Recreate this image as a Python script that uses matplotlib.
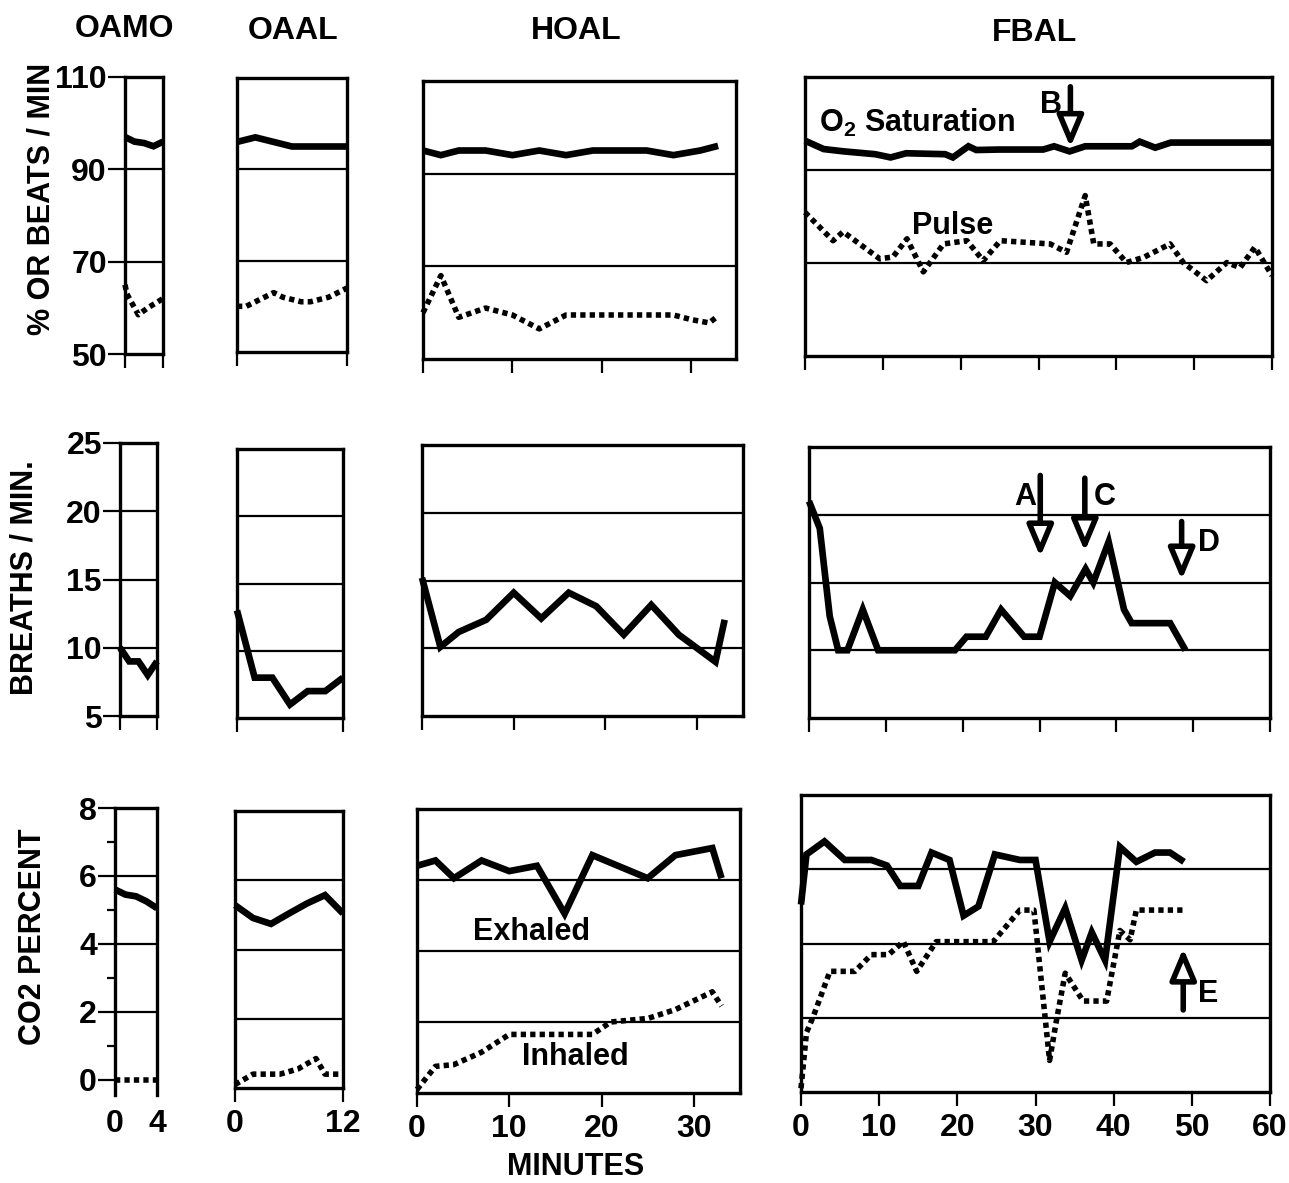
import matplotlib
matplotlib.use('Agg')
import matplotlib.pyplot as plt

plt.rcParams['font.family'] = ['Liberation Sans', 'DejaVu Sans']
plt.rcParams['font.weight'] = 'bold'
plt.rcParams['mathtext.fontset'] = 'custom'
plt.rcParams['mathtext.rm'] = 'Liberation Sans:bold'
plt.rcParams['mathtext.it'] = 'Liberation Sans:bold'
plt.rcParams['mathtext.bf'] = 'Liberation Sans:bold'

# ---------------- data ----------------
groups = ['OAMO', 'OAAL', 'HOAL', 'FBAL']
x_limits = [(0, 4), (0, 12), (0, 35), (0, 60)]
x_ticks = [[0, 4], [0, 12], [0, 10, 20, 30], [0, 10, 20, 30, 40, 50, 60]]

row_ylims = [(50, 110), (5, 25), (0, 8)]
row_yticks = [[50, 70, 90, 110], [5, 10, 15, 20, 25], [0, 2, 4, 6, 8]]
row_grid = [[70, 90], [10, 15, 20], [2, 4, 6]]
row_ylabels = ['% OR BEATS / MIN', 'BREATHS / MIN.', 'CO2 PERCENT']

# Row 1: O2 saturation (%) and pulse (beats/min)
oamo_o2_t = [0, 1, 2, 3, 4]
oamo_o2 = [97, 96, 95.7, 95, 96]
oamo_pulse_t = [0, 0.2, 1, 1.4, 2.4, 4]
oamo_pulse = [65, 63, 60, 58.5, 60, 62]

oaal_o2_t = [0, 2, 4, 6, 8, 10, 12]
oaal_o2 = [96, 97, 96, 95, 95, 95, 95]
oaal_pulse_t = [0, 1, 2, 4, 5, 7, 8, 10, 12]
oaal_pulse = [60, 60, 61, 63, 62, 61, 61, 62, 64]

hoal_o2_t = [0, 2, 4, 7, 10, 13, 16, 19, 22, 25, 28, 31, 33]
hoal_o2 = [95, 94, 95, 95, 94, 95, 94, 95, 95, 95, 94, 95, 96]
hoal_pulse_t = [0, 2, 4, 7, 10, 13, 16, 20, 24, 28, 30, 32, 33]
hoal_pulse = [60, 68, 59, 61, 59.5, 56.5, 59.5, 59.5, 59.5, 59.5, 58.5, 57.8, 59.3]

fbal_o2_t = [0, 2.4, 5, 9, 11, 13, 18, 19, 21, 22, 25, 28, 30.6, 32, 34, 36,
             42, 43, 45, 47, 50, 55, 60]
fbal_o2 = [96.3, 94.5, 94.0, 93.4, 92.7, 93.6, 93.4, 92.7, 95.1, 94.3, 94.4, 94.4,
           94.4, 95.1, 94.0, 95.1, 95.1, 96.1, 94.8, 95.9, 95.9, 95.9, 95.9]
fbal_pulse_t = [0, 3.6, 4.9, 9.6, 11.3, 13.1, 15.2, 17.8, 20.8, 22.9, 25.1, 31.5,
                33.6, 36, 37.1, 39.2, 41.3, 43.5, 46.9, 48.6, 51.6, 54.2, 55.9,
                57.8, 60]
fbal_pulse = [80.9, 74.8, 76.7, 70.9, 71.3, 75.2, 68.1, 74.1, 74.8, 70.5, 74.8,
              74.1, 72.3, 84.5, 74.1, 74.1, 70.1, 71.2, 74.1, 70.1, 66.2, 70.1,
              69, 73.4, 67.3]

# Row 2: breaths / min
oamo_br_t = [0, 1, 2, 3, 4]
oamo_br = [10, 9, 9, 8, 9]
oaal_br_t = [0, 2, 4, 6, 8, 10, 12]
oaal_br = [13, 8, 8, 6, 7, 7, 8]
hoal_br_t = [0, 2, 4, 7, 10, 13, 16, 19, 22, 25, 28, 32, 33]
hoal_br = [15.2, 10.1, 11.2, 12.1, 14.1, 12.2, 14.1, 13.1, 11, 13.2, 11, 9, 12.1]
fbal_br_t = [0, 1.4, 2.7, 3.8, 5, 7, 9, 19, 20.5, 23, 25, 28, 30, 32, 34, 36, 37,
             39, 41, 42, 47, 49]
fbal_br = [21, 19, 12.5, 10, 10, 13, 10, 10, 11, 11, 13, 11, 11, 15, 14, 16, 15,
           18, 13, 12, 12, 10]

# Row 3: CO2 percent (exhaled solid, inhaled dotted)
oamo_ex_t = [0, 1, 2, 3, 4]
oamo_ex = [5.6, 5.45, 5.4, 5.25, 5.05]
oamo_in_t = [0, 1, 2, 3, 4]
oamo_in = [0, 0, 0, 0, 0]
oaal_ex_t = [0, 2, 4, 6, 8, 10, 12]
oaal_ex = [5.28, 4.91, 4.74, 5.04, 5.33, 5.57, 5.04]
oaal_in_t = [0, 1, 2, 5, 7, 9, 10, 12]
oaal_in = [0.1, 0.25, 0.4, 0.4, 0.55, 0.85, 0.4, 0.4]
hoal_ex_t = [0, 2, 4, 7, 10, 13, 16, 19, 25, 28, 32, 33]
hoal_ex = [6.4, 6.55, 6.05, 6.55, 6.25, 6.4, 5.05, 6.7, 6.05, 6.7, 6.9, 6.05]
hoal_in_t = [0, 2, 4, 7, 10, 19, 21, 25, 28, 32, 33]
hoal_in = [0.1, 0.75, 0.8, 1.15, 1.65, 1.65, 2.0, 2.1, 2.35, 2.85, 2.45]
fbal_ex_t = [0, 0.7, 3, 5.6, 9, 11, 12.7, 15, 16.7, 19, 20.8, 22.7, 24.8, 28, 30,
             31.8, 33.8, 35.9, 37.2, 38.9, 40.8, 42.9, 45.3, 47.2, 49]
fbal_ex = [5.05, 6.4, 6.75, 6.25, 6.25, 6.1, 5.55, 5.55, 6.45, 6.25, 4.75, 5.0,
           6.4, 6.25, 6.25, 4.05, 4.95, 3.55, 4.3, 3.55, 6.6, 6.2, 6.45, 6.45, 6.2]
fbal_in_t = [0, 0.7, 1.6, 3.7, 6.9, 9, 11.2, 13.1, 14.8, 17.3, 24.6, 28, 29.8,
             31.8, 32.7, 33.8, 36.1, 39.1, 40.8, 42.1, 42.9, 49]
fbal_in = [0.1, 1.6, 2.05, 3.25, 3.25, 3.7, 3.7, 4.05, 3.25, 4.05, 4.05, 4.9, 4.9,
           0.85, 1.95, 3.2, 2.45, 2.45, 4.35, 4.1, 4.9, 4.9]

# ---------------- layout (pixel boxes: left, right, top, bottom) ----------------
W, H = 1289, 1183
boxes = {
    (0, 0): (125, 163, 77, 354), (0, 1): (237, 347, 78, 352),
    (0, 2): (423, 736, 81, 359), (0, 3): (805, 1272, 77, 356),
    (1, 0): (120, 157, 443, 716), (1, 1): (237, 343, 449, 718),
    (1, 2): (422, 743, 445, 716), (1, 3): (809, 1270, 447, 718),
    (2, 0): (115, 157, 808, 1095), (2, 1): (235, 343, 811, 1088),
    (2, 2): (417, 740, 809, 1093), (2, 3): (801, 1270, 795, 1092),
}

series = {
    (0, 0): [(oamo_o2_t, oamo_o2, 'solid'), (oamo_pulse_t, oamo_pulse, 'dot')],
    (0, 1): [(oaal_o2_t, oaal_o2, 'solid'), (oaal_pulse_t, oaal_pulse, 'dot')],
    (0, 2): [(hoal_o2_t, hoal_o2, 'solid'), (hoal_pulse_t, hoal_pulse, 'dot')],
    (0, 3): [(fbal_o2_t, fbal_o2, 'solid'), (fbal_pulse_t, fbal_pulse, 'dot')],
    (1, 0): [(oamo_br_t, oamo_br, 'solid')],
    (1, 1): [(oaal_br_t, oaal_br, 'solid')],
    (1, 2): [(hoal_br_t, hoal_br, 'solid')],
    (1, 3): [(fbal_br_t, fbal_br, 'solid')],
    (2, 0): [(oamo_ex_t, oamo_ex, 'solid'), (oamo_in_t, oamo_in, 'dot')],
    (2, 1): [(oaal_ex_t, oaal_ex, 'solid'), (oaal_in_t, oaal_in, 'dot')],
    (2, 2): [(hoal_ex_t, hoal_ex, 'solid'), (hoal_in_t, hoal_in, 'dot')],
    (2, 3): [(fbal_ex_t, fbal_ex, 'solid'), (fbal_in_t, fbal_in, 'dot')],
}

fig = plt.figure(figsize=(W / 100, H / 100), dpi=100)
FS = 22
TFS = 23
axes = {}
for (r, c), (l, rr, t, b) in boxes.items():
    ax = fig.add_axes([l / W, 1 - b / H, (rr - l) / W, (b - t) / H])
    axes[(r, c)] = ax
    ax.set_xlim(*x_limits[c])
    ylim = row_ylims[r]
    if (r, c) == (2, 0):
        ylim = (-0.45, 8)
    ax.set_ylim(*ylim)
    for s in ax.spines.values():
        s.set_linewidth(2.4)
    for g in row_grid[r]:
        ax.axhline(g, color='black', lw=1.6, zorder=1)
    ax.set_xticks(x_ticks[c])
    ax.tick_params(axis='x', direction='out', length=10, width=1.6,
                   labelsize=TFS, pad=5, labelbottom=(r == 2))
    if c == 0:
        ax.set_yticks(row_yticks[r])
        ax.tick_params(axis='y', direction='out', length=12, width=1.6,
                       labelsize=TFS, pad=1)
        if r == 2:
            ax.set_yticks([1, 3, 5, 7], minor=True)
            ax.tick_params(axis='y', which='minor', direction='out', length=6,
                           width=1.6)
    else:
        ax.set_yticks([])
    if (r, c) == (2, 0):
        ax.spines['bottom'].set_visible(False)
        ax.tick_params(axis='x', length=0, pad=10)
    for tt, vv, style in series[(r, c)]:
        if style == 'solid':
            ax.plot(tt, vv, color='black', lw=4.8, solid_joinstyle='miter',
                    solid_capstyle='butt', clip_on=False, zorder=3)
        else:
            ax.plot(tt, vv, color='black', lw=4.0, linestyle=(0, (0.95, 0.75)),
                    dash_capstyle='butt', clip_on=False, zorder=3)

# ---------------- titles and axis labels ----------------
title_pos = [(124, 29), (293, 31), (576, 31), (1034, 33)]
for name, (x, y) in zip(groups, title_pos):
    fig.text(x / W, 1 - y / H, name, ha='center', va='center', fontsize=TFS,
             fontweight='bold')

ylabel_pos = [(42, 199), (25, 578), (33, 937)]
for lab, (x, y) in zip(row_ylabels, ylabel_pos):
    fig.text(x / W, 1 - y / H, lab, ha='center', va='center', rotation=90,
             fontsize=FS, fontweight='bold')

fig.text(576 / W, 1 - 1167 / H, 'MINUTES', ha='center', va='center',
         fontsize=FS, fontweight='bold')

# ---------------- annotations ----------------
def arrow(ax, t, y_from, y_to):
    ax.annotate('', xy=(t, y_to), xytext=(t, y_from),
                arrowprops=dict(arrowstyle='-|>,head_width=0.4,head_length=0.95',
                                mutation_scale=20, facecolor='white',
                                edgecolor='black', lw=4.0, shrinkA=0, shrinkB=0),
                zorder=5)

a1 = axes[(0, 3)]
a1.text(1.8, 98.2, r'O$_2$ Saturation', fontsize=FS, fontweight='bold',
        ha='left', va='baseline')
a1.text(13.7, 76.2, 'Pulse', fontsize=FS, fontweight='bold', ha='left',
        va='baseline')
a1.text(30.2, 102.3, 'B', fontsize=FS, fontweight='bold', ha='left',
        va='baseline')
arrow(a1, 34.1, 107.9, 94.9)

a2 = axes[(1, 3)]
a2.text(26.7, 20.7, 'A', fontsize=FS, fontweight='bold', ha='left', va='baseline')
arrow(a2, 30.1, 22.9, 16.9)
a2.text(37.0, 20.7, 'C', fontsize=FS, fontweight='bold', ha='left', va='baseline')
arrow(a2, 35.9, 22.7, 17.3)
a2.text(50.6, 17.35, 'D', fontsize=FS, fontweight='bold', ha='left', va='baseline')
arrow(a2, 48.5, 19.5, 15.2)

a3 = axes[(2, 2)]
a3.text(6.1, 4.31, 'Exhaled', fontsize=FS, fontweight='bold', ha='left',
        va='baseline')
a3.text(11.4, 0.79, 'Inhaled', fontsize=FS, fontweight='bold', ha='left',
        va='baseline')

a4 = axes[(2, 3)]
a4.text(50.8, 2.43, 'E', fontsize=FS, fontweight='bold', ha='left', va='baseline')
arrow(a4, 48.9, 2.21, 3.87)

fig.savefig('out.png', dpi=100)
